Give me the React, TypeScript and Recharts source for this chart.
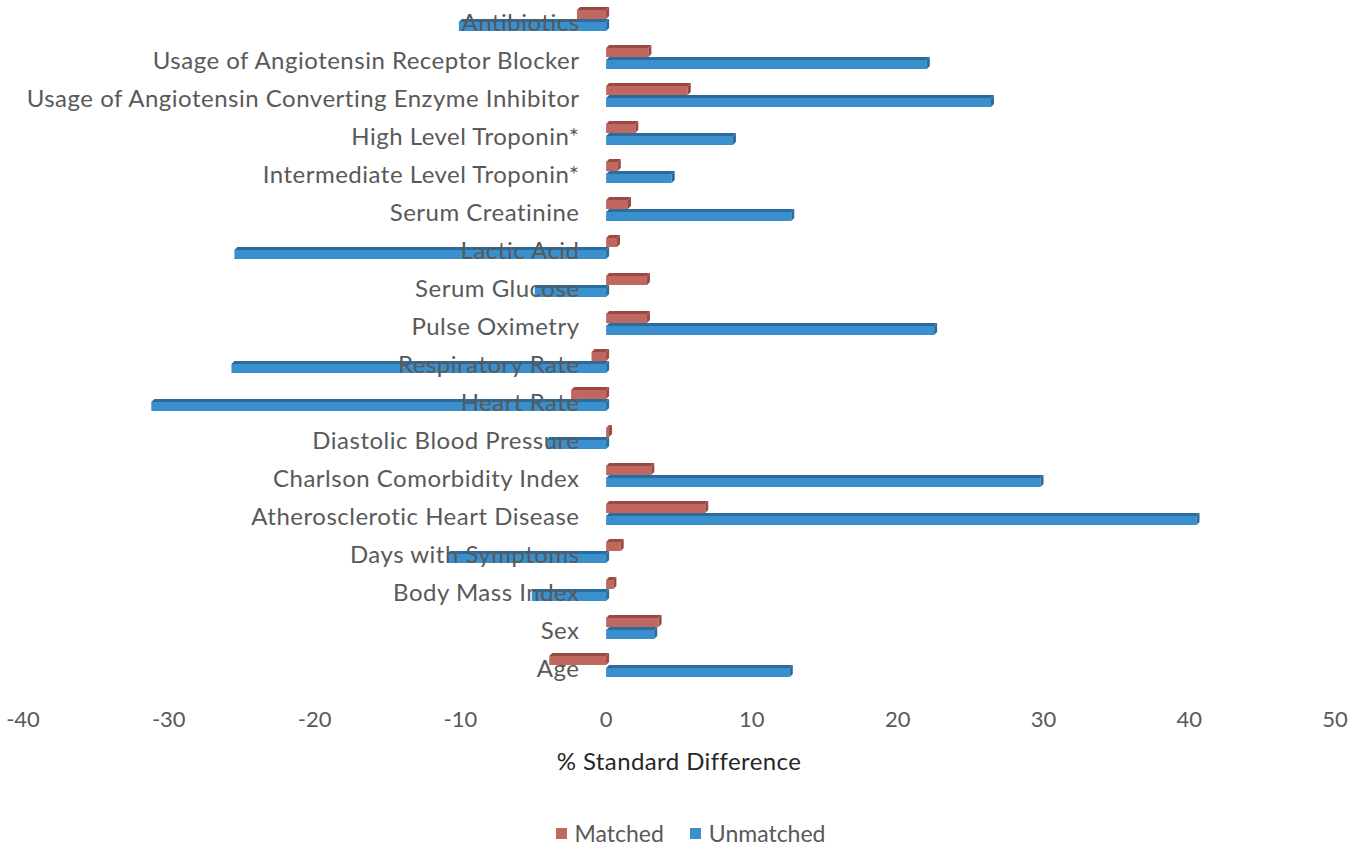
import React from 'react';
import { BarChart, Bar, XAxis, YAxis, Legend } from 'recharts';

// values, top row first
const categories = [
  'Antibiotics',
  'Usage of Angiotensin Receptor Blocker',
  'Usage of Angiotensin Converting Enzyme Inhibitor',
  'High Level Troponin*',
  'Intermediate Level Troponin*',
  'Serum Creatinine',
  'Lactic Acid',
  'Serum Glucose',
  'Pulse Oximetry',
  'Respiratory Rate',
  'Heart Rate',
  'Diastolic Blood Pressure',
  'Charlson Comorbidity Index',
  'Atherosclerotic Heart Disease',
  'Days with Symptoms',
  'Body Mass Index',
  'Sex',
  'Age',
];
const matched = [-2.0, 2.9, 5.6, 2.0, 0.8, 1.5, 0.75, 2.8, 2.8, -1.0, -2.4, 0.2, 3.1, 6.8, 1.0, 0.5, 3.6, -3.9];
const unmatched = [-10.1, 22.0, 26.4, 8.7, 4.5, 12.7, -25.5, -4.9, 22.5, -25.7, -31.2, -4.1, 29.8, 40.5, -10.9, -5.1, 3.3, 12.6];
const xTicks = [-40, -30, -20, -10, 0, 10, 20, 30, 40, 50];

const data = categories.map((name, i) => ({ name, matched: matched[i], unmatched: unmatched[i] }));

const W = 1353;
const H = 846;
const M = { top: 0, right: 18, left: 22, bottom: 0 };
const DOMAIN: [number, number] = [-40, 50];
// where x = 0 falls, so the category labels sit just left of it like Excel does
const ZERO_X = M.left + ((0 - DOMAIN[0]) / (DOMAIN[1] - DOMAIN[0])) * (W - M.left - M.right);

const FONT = 'Lato, "Open Sans", sans-serif';
const GREY = '#595959';

const series = [
  { key: 'matched', name: 'Matched', face: '#C0675F', top: '#9A4943' },
  { key: 'unmatched', name: 'Unmatched', face: '#3A8FCD', top: '#2B6C9E' },
];

// flat bar with a thin top face and an end cap, to mimic the 3D look
const make3D = (face: string, top: string) => (props: any) => {
  const { x, y, width, height } = props;
  if (width == null || height == null) return null;
  const x0 = width < 0 ? x + width : x;
  const w = Math.abs(width);
  const d = 3;
  return (
    <g>
      <rect x={x0} y={y + d} width={w} height={height - d} fill={face} />
      <polygon
        points={`${x0},${y + d} ${x0 + d},${y} ${x0 + w + d},${y} ${x0 + w},${y + d}`}
        fill={top}
      />
      <polygon
        points={`${x0 + w},${y + d} ${x0 + w + d},${y} ${x0 + w + d},${y + height - d} ${x0 + w},${y + height}`}
        fill={top}
      />
    </g>
  );
};

const renderCategoryTick = (props: any) => {
  const { y, payload } = props;
  return (
    <text
      key={payload.value}
      x={ZERO_X - 26}
      y={y}
      dy={12}
      textAnchor="end"
      fill={GREY}
      fontSize={24}
      letterSpacing={0.5}
      fontFamily={FONT}
    >
      {payload.value}
    </text>
  );
};

const LegendBox = () => (
  <div
    style={{
      display: 'flex',
      justifyContent: 'center',
      alignItems: 'center',
      gap: 26,
      height: 52,
      paddingTop: 26,
      paddingLeft: 24,
      boxSizing: 'border-box',
      fontFamily: FONT,
      fontSize: 23,
      color: GREY,
    }}
  >
    {series.map(s => (
      <span key={s.key} style={{ display: 'flex', alignItems: 'center', gap: 8 }}>
        <span style={{ width: 11, height: 11, background: s.face, display: 'inline-block' }} />
        {s.name}
      </span>
    ))}
  </div>
);

export default function App() {
  return (
    <div style={{ position: 'absolute', left: 0, top: 0, background: '#fff' }}>
      <BarChart
        width={W}
        height={H}
        data={data}
        layout="vertical"
        margin={M}
        barSize={12}
        barGap={0}
      >
        <XAxis
          type="number"
          domain={DOMAIN}
          ticks={xTicks}
          interval={0}
          axisLine={false}
          tickLine={false}
          tickMargin={21}
          height={110}
          tick={{ fill: GREY, fontSize: 22, fontFamily: FONT }}
          label={{
            value: '% Standard Difference',
            position: 'insideBottom',
            offset: 24,
            fill: '#262626',
            fontSize: 24,
            fontFamily: FONT,
            letterSpacing: 0.4,
          }}
        />
        {series.map(s => (
          <Bar
            key={s.key}
            dataKey={s.key}
            name={s.name}
            fill={s.face}
            shape={make3D(s.face, s.top)}
            isAnimationActive={false}
          />
        ))}
        <YAxis
          type="category"
          dataKey="name"
          width={1}
          axisLine={false}
          tickLine={false}
          interval={0}
          tick={renderCategoryTick}
        />
        <Legend verticalAlign="bottom" height={52} content={<LegendBox />} />
      </BarChart>
    </div>
  );
}
